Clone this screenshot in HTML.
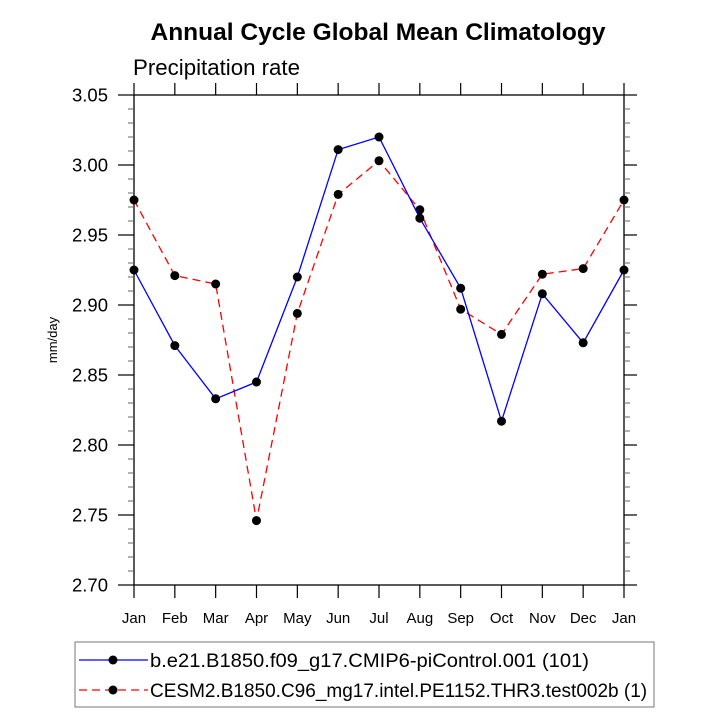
<!DOCTYPE html>
<html><head><meta charset="utf-8"><style>
html,body{margin:0;padding:0;background:#fff;width:727px;height:727px;overflow:hidden}
svg text{font-family:"Liberation Sans",Arial,sans-serif}
</style></head><body>
<svg id="chart" width="727" height="727" xmlns="http://www.w3.org/2000/svg">
<text x="378" y="40" text-anchor="middle" font-size="24" font-weight="bold" textLength="455" lengthAdjust="spacingAndGlyphs">Annual Cycle Global Mean Climatology</text>
<text x="133" y="75" font-size="22" textLength="167" lengthAdjust="spacingAndGlyphs">Precipitation rate</text>
<text transform="translate(57,340) rotate(-90)" text-anchor="middle" font-size="13">mm/day</text>
<g id="axes"></g>
<g id="series"></g>
<g>
<rect x="75" y="642" width="579" height="65" fill="none" stroke="#777" stroke-width="1"/>
<line x1="79" y1="660" x2="148" y2="660" stroke="#0000ff" stroke-width="1.3"/>
<circle cx="113" cy="660" r="4.5" fill="#000"/>
<text x="150" y="667" font-size="19" textLength="439" lengthAdjust="spacingAndGlyphs">b.e21.B1850.f09_g17.CMIP6-piControl.001 (101)</text>
<line x1="79" y1="690" x2="148" y2="690" stroke="#ff0000" stroke-width="1.3" stroke-dasharray="8,5"/>
<circle cx="113" cy="690" r="4.5" fill="#000"/>
<text x="150" y="697" font-size="19">CESM2.B1850.C96_mg17.intel.PE1152.THR3.test002b (1)</text>
</g>
</svg>
<script>
const months = ["Jan","Feb","Mar","Apr","May","Jun","Jul","Aug","Sep","Oct","Nov","Dec","Jan"];
const blueValues = [2.925,2.871,2.833,2.845,2.920,3.011,3.020,2.962,2.912,2.817,2.908,2.873,2.925];
const redValues = [2.975,2.921,2.915,2.746,2.894,2.979,3.003,2.968,2.897,2.879,2.922,2.926,2.975];
const yTicks = [2.70,2.75,2.80,2.85,2.90,2.95,3.00,3.05];
const yTickLabels = ["2.70","2.75","2.80","2.85","2.90","2.95","3.00","3.05"];

const L=134,R=624,T=95,B=585,yMin=2.70,yMax=3.05;
const xs=i=>L+(R-L)*i/(months.length-1);
const ys=v=>B-(v-yMin)/(yMax-yMin)*(B-T);
const NS="http://www.w3.org/2000/svg";
function mk(tag,attrs,parent){const e=document.createElementNS(NS,tag);for(const k in attrs)e.setAttribute(k,attrs[k]);parent.appendChild(e);return e;}
const ax=document.getElementById('axes');
let fr=mk('rect',{x:L,y:T,width:R-L,height:B-T,fill:'none',stroke:'#000','stroke-width':1.3},ax);


months.forEach((m,i)=>{
  const x=xs(i);
  let t=mk('line',{x1:x,y1:B,x2:x,y2:B+13,stroke:'#000','stroke-width':1.2},ax);
  
  
  let t2=mk('line',{x1:x,y1:T,x2:x,y2:T-12,stroke:'#000','stroke-width':1.2},ax);
  
  
  let lb=mk('text',{x:x,y:B+38,'text-anchor':'middle','font-size':15},ax);
  lb.textContent=m;
  
  
});
yTicks.forEach((v,i)=>{
  const y=ys(v);
  let t=mk('line',{x1:L-16,y1:y,x2:L,y2:y,stroke:'#000','stroke-width':1.2},ax);
  
  
  let t2=mk('line',{x1:R,y1:y,x2:R+13,y2:y,stroke:'#000','stroke-width':1.2},ax);
  
  
  let lb=mk('text',{x:L-26,y:y+6.5,'text-anchor':'end','font-size':18.5},ax);
  lb.textContent=yTickLabels[i];
  
  
});
for(let k=0;k<35;k++){
  if(k%5===0)continue;
  const y=ys(yMin+k*0.01);
  let m=mk('line',{x1:L-6,y1:y,x2:L,y2:y,stroke:'#666','stroke-width':1},ax);
  
  
  let m2=mk('line',{x1:R,y1:y,x2:R+6,y2:y,stroke:'#666','stroke-width':1},ax);
  
  
}
const sg=document.getElementById('series');
function drawSeries(vals,color,dash,name){
  const pts=vals.map((v,i)=>xs(i)+','+ys(v)).join(' ');
  let pl=mk('polyline',{points:pts,fill:'none',stroke:color,'stroke-width':1.3},sg);
  if(dash)pl.setAttribute('stroke-dasharray',dash);
  
  
  vals.forEach((v,i)=>{
    let c=mk('circle',{cx:xs(i),cy:ys(v),r:4.5,fill:'#000'},sg);
    
    
  });
}
drawSeries(redValues,'#ff0000','8,5','red-series');
drawSeries(blueValues,'#0000ff',null,'blue-series');
</script>
</body></html>
